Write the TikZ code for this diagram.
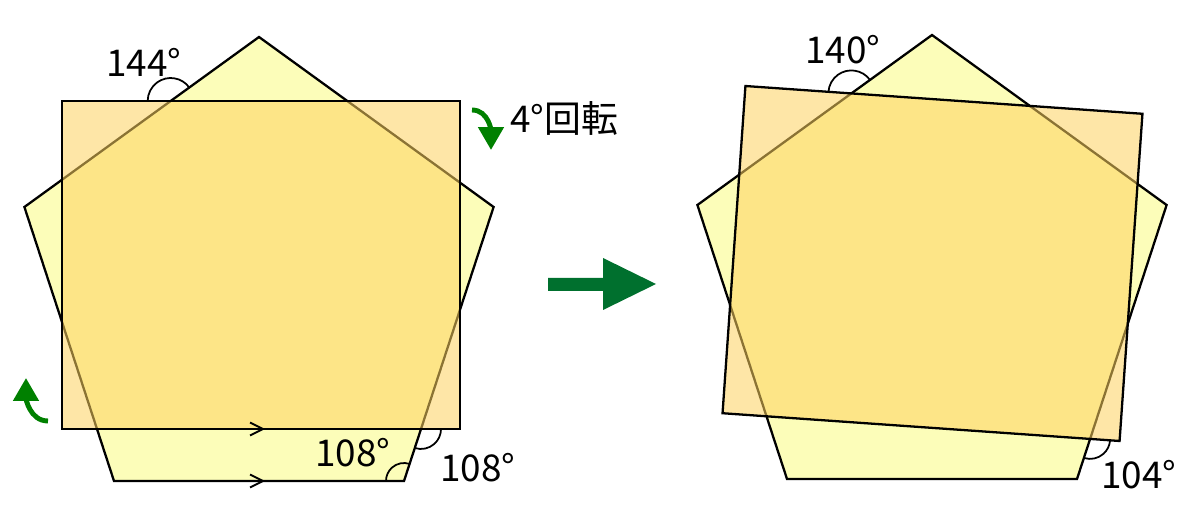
\documentclass[tikz,border=0pt]{standalone}
\usepackage{fontspec}
\newfontfamily\jpfont{Noto Sans CJK JP}
\usepackage{tikz}
\usetikzlibrary{arrows.meta,intersections,calc}
\definecolor{pentfill}{RGB}{252,253,185}
\definecolor{rectfill}{RGB}{254,210,95}
\definecolor{turngreen}{RGB}{0,128,0}
\definecolor{biggreen}{RGB}{0,112,46}
\tikzset{pent/.style={fill=pentfill,draw=black,line width=1.3pt},
         sq/.style={fill=rectfill,fill opacity=0.55,draw=black,draw opacity=1,line width=1.3pt},
         angle arc/.style={draw=black,line width=1pt},
         deg/.style={font=\jpfont\fontsize{21}{24}\selectfont,inner sep=0pt},
         turn arrow/.style={draw=turngreen,line width=2.8pt,-{Triangle[width=0.5cm,length=0.46cm]}},
         par mark/.style={draw=black,line width=1.1pt},
            }

\begin{document}
\begin{tikzpicture}[x=0.02cm,y=0.02cm]
    \useasboundingbox (0,0) rectangle (1200,521);

    % left figure
    \coordinate (p1) at (259,484);
    \coordinate (p2) at (493.6,314);
    \coordinate (p3) at (404,40);
    \coordinate (p4) at (114,40);
    \coordinate (p5) at (24.4,314);
    \draw[pent] (p1) -- (p2) -- (p3) -- (p4) -- (p5) -- cycle;

    \coordinate (s1) at (62,420);
    \coordinate (s2) at (460,420);
    \coordinate (s3) at (460,92);
    \coordinate (s4) at (62,92);
    \draw[sq] (s1) -- (s2) -- (s3) -- (s4) -- cycle;

    \path[name path=pl] (p5) -- (p1);
    \path[name path=st] (s1) -- (s2);
    \path[name path=pr] (p2) -- (p3);
    \path[name path=sb] (s3) -- (s4);
    \path[name intersections={of=pl and st,by=a1}];
    \path[name intersections={of=pr and sb,by=a2}];

    \draw[angle arc] ([shift={(36:0.46cm)}]a1) arc[start angle=36,end angle=180,radius=0.46cm];
    \draw[angle arc] ([shift={(-108:0.4cm)}]a2) arc[start angle=-108,end angle=0,radius=0.4cm];
    \draw[angle arc] ([shift={(72:0.36cm)}]p3) arc[start angle=72,end angle=180,radius=0.36cm];

    \coordinate (m1) at (263,92);
    \coordinate (m2) at (263,40);
    \draw[par mark] ([shift={(-13,6.5)}]m1) -- (m1) -- ([shift={(-13,-6.5)}]m1);
    \draw[par mark] ([shift={(-13,6.5)}]m2) -- (m2) -- ([shift={(-13,-6.5)}]m2);

    \node[deg] (l1) at (144,459) {144°};
    \node[deg] (l2) at (353,68) {108°};
    \node[deg] (l3) at (478,53) {108°};
    \node[deg] (l4) at (564,403) {4°回転};

    \coordinate (t1) at (472,411);
    \coordinate (t2) at (491,371);
    \coordinate (t3) at (48,100);
    \coordinate (t4) at (26,143);
    \draw[turn arrow] (t1) to[out=0,in=90] (t2);
    \draw[turn arrow] (t3) to[out=180,in=-90] (t4);

    % big arrow
    \fill[biggreen] (548,243) -- (603,243) -- (603,263) -- (656,237)
                    -- (603,211) -- (603,230) -- (548,230) -- cycle;

    % right figure
    \coordinate (q1) at (932,486);
    \coordinate (q2) at (1166.6,316);
    \coordinate (q3) at (1077,42);
    \coordinate (q4) at (787,42);
    \coordinate (q5) at (697.4,316);
    \draw[pent] (q1) -- (q2) -- (q3) -- (q4) -- (q5) -- cycle;

    \begin{scope}[rotate around={-4:(932.5,257.5)}]
    \coordinate (r1) at (733.5,421.5);
    \coordinate (r2) at (1131.5,421.5);
    \coordinate (r3) at (1131.5,93.5);
    \coordinate (r4) at (733.5,93.5);
    \end{scope}
    \draw[sq] (r1) -- (r2) -- (r3) -- (r4) -- cycle;

    \path[name path=ql] (q5) -- (q1);
    \path[name path=rt] (r1) -- (r2);
    \path[name path=qr] (q2) -- (q3);
    \path[name path=rb] (r3) -- (r4);
    \path[name intersections={of=ql and rt,by=b1}];
    \path[name intersections={of=qr and rb,by=b2}];

    \draw[angle arc] ([shift={(36:0.46cm)}]b1) arc[start angle=36,end angle=176,radius=0.46cm];
    \draw[angle arc] ([shift={(-108:0.4cm)}]b2) arc[start angle=-108,end angle=-4,radius=0.4cm];

    \node[deg] (l5) at (843,471) {140°};
    \node[deg] (l6) at (1139,46) {104°};

\end{tikzpicture}
\end{document}
